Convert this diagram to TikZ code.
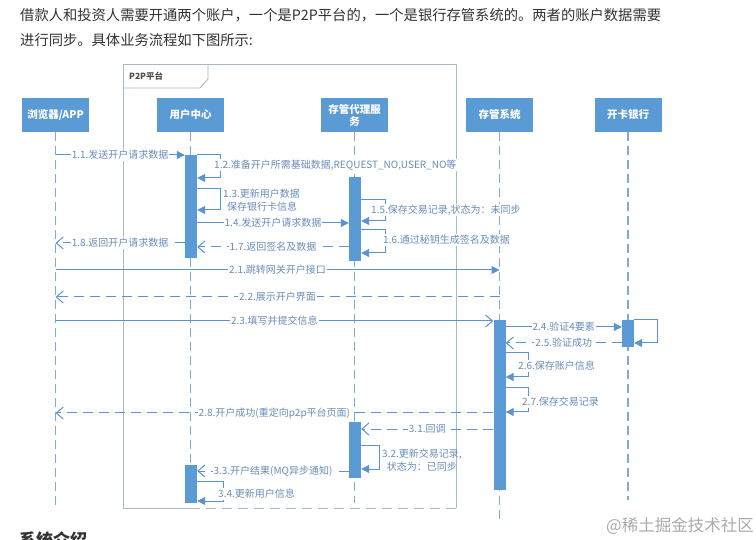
\documentclass[tikz,border=0pt]{standalone}
\usepackage{fontspec}
\setmainfont{Noto Sans CJK SC}
\usetikzlibrary{arrows.meta,calc}
\definecolor{boxblue}{HTML}{5B9BD5}
\definecolor{lineblue}{HTML}{5B93CF}
\definecolor{lifeblue}{HTML}{7EAAD8}
\definecolor{lblblue}{HTML}{6A8DB8}
\definecolor{framegray}{HTML}{A9B8C8}
\definecolor{bodytext}{HTML}{333333}
\definecolor{wmgray}{HTML}{ABABAB}
\tikzset{
  actor/.style={fill=boxblue, draw=none, minimum width=67pt, minimum height=34pt,
    text=white, font=\fontsize{10.5}{12}\selectfont\bfseries, align=center, inner sep=1pt},
  actbar/.style={fill=boxblue, draw=none, minimum width=12pt, inner sep=0pt, anchor=north},
  life/.style={draw=lifeblue, line width=1.2pt, dash pattern=on 9pt off 5pt},
  msg/.style={draw=lineblue, line width=1pt, -{Triangle[length=8pt,width=8pt]}},
  msgopen/.style={draw=lineblue, line width=1pt, -{Straight Barb[length=7pt,width=12pt,line width=1pt]}},
  ret/.style={draw=lineblue, line width=1pt, dash pattern=on 10pt off 6pt, -{Straight Barb[length=7pt,width=12pt,line width=1pt]}},
  lbl/.style={fill=white, text=lblblue, font=\fontsize{10}{12}\selectfont, inner sep=1pt},
  lbltxt/.style={text=lblblue, font=\fontsize{10}{13}\selectfont, inner sep=1pt},
  bodytxt/.style={text=bodytext, font=\fontsize{14.3}{18}\selectfont, inner sep=0pt, anchor=west},
}
\begin{document}
\begin{tikzpicture}[x=1pt,y=-1pt]
\useasboundingbox (0,0) rectangle (756,540);
\clip (0,0) rectangle (756,540);
\fill[white] (0,0) rectangle (756,540);
% intro text
\node[bodytxt] (t1) at (20,15) {借款人和投资人需要开通两个账户，一个是P2P平台的，一个是银行存管系统的。两者的账户数据需要};
\node[bodytxt] (t2) at (20,40) {进行同步。具体业务流程如下图所示:};
% frame
\draw[framegray, line width=0.9pt] (190,508) -- (123,508) -- (123,64) -- (456,64) -- (456,508);
\draw[framegray, line width=0.9pt, dash pattern=on 10pt off 6pt] (456,508) -- (190,508);
\draw[framegray, line width=0.9pt] (208,64) -- (208,79) -- (200,88) -- (123,88);
\node[anchor=west, text=black!70, font=\fontsize{8.5}{10}\selectfont\bfseries, inner sep=0pt] (ftab) at (129,76) {P2P平台};
% actors
\node[actor] (brow) at (55.5,115) {浏览器/APP};
\node[actor] (user) at (190.5,115) {用户中心};
\node[actor] (proxy) at (354.5,115) {存管代理服\\务};
\node[actor] (dep) at (499.5,115) {存管系统};
\node[actor] (bank) at (628,115) {开卡银行};
% lifelines
\draw[life] (brow.south) -- (brow |- 0,510);
\draw[life] (user.south) -- (user |- 0,503);
\draw[life] (proxy.south) -- (proxy |- 0,503);
\draw[life] (dep.south) -- (dep |- 0,520);
\draw[life] (bank.south) -- (bank |- 0,500);
% activation bars
\node[actbar, minimum height=103pt] (ua1) at (191,155) {};
\node[actbar, minimum height=84pt] (pa1) at (355,177) {};
\node[actbar, minimum height=170pt] (da1) at (499.5,320) {};
\node[actbar, minimum height=27pt] (ba1) at (628,320) {};
\node[actbar, minimum height=56pt] (pa2) at (355,422) {};
\node[actbar, minimum height=38pt] (ua2) at (191,465) {};
% messages
\draw[msg] (brow |- 0,155) -- node[lbl]{1.1.发送开户请求数据} (ua1.west |- 0,155);
\draw[msg] (ua1.east |- 0,155) -- (220,155) -- (220,178) -- (ua1.east |- 0,178);
\node[lbl, anchor=west] (l12) at (213,165) {1.2.准备开户所需基础数据,REQUEST\_NO,USER\_NO等};
\draw[msg] (ua1.east |- 0,189) -- (220,189) -- (220,210) -- (ua1.east |- 0,210);
\node[lbltxt, anchor=west, align=left] (l13) at (222,200) {1.3.更新用户数据\\\ \,保存银行卡信息};
\draw[msg] (ua1.east |- 0,223) -- node[lbl]{1.4.发送开户请求数据} (pa1.west |- 0,223);
\draw[msg] (pa1.east |- 0,200) -- (385,200) -- (385,221) -- (pa1.east |- 0,221);
\node[lbl, anchor=west] (l15) at (370,210) {1.5.保存交易记录,状态为：未同步};
\draw[msg] (pa1.east |- 0,230) -- (385,230) -- (385,253) -- (pa1.east |- 0,253);
\node[lbl, anchor=west] (l16) at (382,240) {1.6.通过秘钥生成签名及数据};
\draw[ret] (pa1.west |- 0,247) -- node[lbl]{1.7.返回签名及数据} (ua1.east |- 0,247);
\draw[ret] (ua1.west |- 0,243) -- node[lbl]{1.8.返回开户请求数据} (brow |- 0,243);
\draw[msg] (brow |- 0,270) -- node[lbl]{2.1.跳转网关开户接口} (dep |- 0,270);
\draw[ret] (dep |- 0,297) -- node[lbl]{2.2.展示开户界面} (brow |- 0,297);
\draw[msgopen] (brow |- 0,321) -- node[lbl]{2.3.填写并提交信息} (da1.west |- 0,321);
\draw[msg] (da1.east |- 0,327) -- node[lbl]{2.4.验证4要素} (ba1.west |- 0,327);
\draw[msg] (ba1.east |- 0,320) -- (657,320) -- (657,343) -- (ba1.east |- 0,343);
\draw[ret] (ba1.west |- 0,343) -- node[lbl]{2.5.验证成功} (da1.east |- 0,343);
\draw[msg] (da1.east |- 0,353) -- (528,353) -- (528,377) -- (da1.east |- 0,377);
\node[lbl, anchor=west] (l26) at (517,366) {2.6.保存账户信息};
\draw[msg] (da1.east |- 0,388) -- (528,388) -- (528,412) -- (da1.east |- 0,412);
\node[lbl, anchor=west] (l27) at (521,402) {2.7.保存交易记录};
\draw[ret] (da1.west |- 0,413) -- node[lbl]{2.8.开户成功(重定向p2p平台页面)} (brow |- 0,413);
\draw[ret] (da1.west |- 0,429) -- node[lbl]{3.1.回调} (pa2.east |- 0,429);
\draw[msg] (pa2.east |- 0,445) -- (379,445) -- (379,469) -- (pa2.east |- 0,469);
\node[lbltxt, anchor=west, align=center] (l32) at (381,460) {3.2.更新交易记录,\\状态为：已同步};
\draw[ret] (pa2.west |- 0,471) -- node[lbl]{3.3.开户结果(MQ异步通知)} (ua2.east |- 0,471);
\draw[msg] (ua2.east |- 0,481) -- (223,481) -- (223,501) -- (ua2.east |- 0,501);
\node[lbl, anchor=west] (l34) at (217,494) {3.4.更新用户信息};
% watermark and heading
\node[text=wmgray, font=\fontsize{16.5}{18}\selectfont, inner sep=0pt] (wm) at (680,526) {@稀土掘金技术社区};
\node[anchor=north west, text=bodytext, font=\fontsize{17}{19}\selectfont\bfseries, inner sep=0pt] (h2) at (19,531) {系统介绍};
\end{tikzpicture}
\end{document}
